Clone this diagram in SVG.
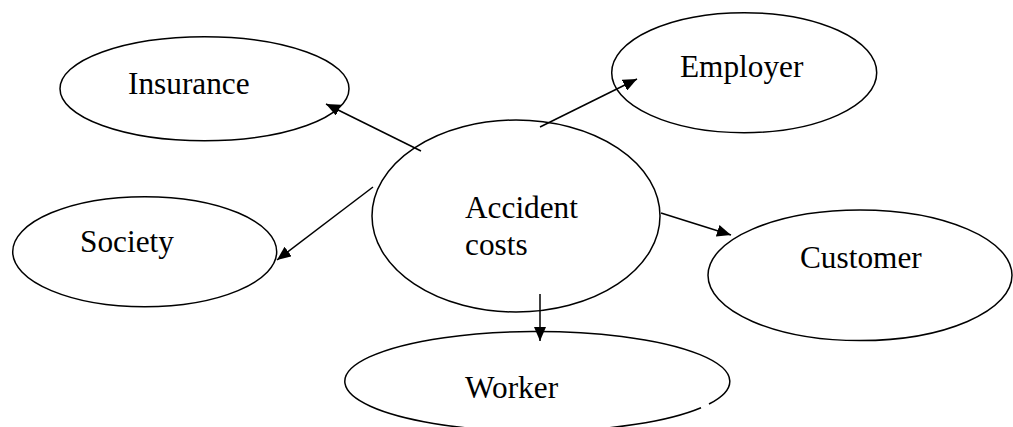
<svg xmlns="http://www.w3.org/2000/svg" width="1013" height="427" viewBox="0 0 1013 427">
<style>
.n{fill:#fff;stroke:#000;stroke-width:1.5}
.t{font-family:"Liberation Serif","Times New Roman",serif;font-size:31.3px;fill:#000}
.c{stroke:#000;stroke-width:1.5;fill:none;marker-end:url(#ah)}
</style>
<defs>
<marker id="ah" viewBox="0 0 14 12" refX="14" refY="6" markerWidth="14" markerHeight="12" markerUnits="userSpaceOnUse" orient="auto">
<path d="M0,0 L14,6 L0,12 z" fill="#000"/>
</marker>
</defs>
<rect width="1013" height="427" fill="#fff"/>
<g id="insurance">
<ellipse class="n" cx="204.5" cy="88.7" rx="144.5" ry="52"/>
<text class="t" x="128" y="94.3">Insurance</text>
</g>
<g id="employer">
<ellipse class="n" cx="744.2" cy="72.7" rx="132.5" ry="60"/>
<text class="t" x="680" y="76.7">Employer</text>
</g>
<g id="society">
<ellipse class="n" cx="144.7" cy="251.7" rx="132" ry="55"/>
<text class="t" x="80" y="251.7">Society</text>
</g>
<g id="customer">
<ellipse class="n" cx="860" cy="275.3" rx="152" ry="65.3"/>
<text class="t" x="800" y="268.3">Customer</text>
</g>
<g id="worker">
<path class="n" d="M709,404 A192.5,50 0 1 0 701,407.7"/>
<text class="t" x="465" y="398.3">Worker</text>
</g>
<g id="accident-costs">
<ellipse class="n" cx="516" cy="216" rx="144" ry="96"/>
<text class="t" x="465" y="218">Accident</text>
<text class="t" x="465" y="255">costs</text>
</g>
<g id="connectors">
<line class="c" x1="421" y1="151" x2="326" y2="104"/>
<line class="c" x1="540" y1="127" x2="637" y2="79"/>
<line class="c" x1="373" y1="187" x2="277" y2="260"/>
<line class="c" x1="661" y1="213" x2="731" y2="235"/>
<line class="c" x1="540" y1="294" x2="540" y2="341"/>
</g>
</svg>
